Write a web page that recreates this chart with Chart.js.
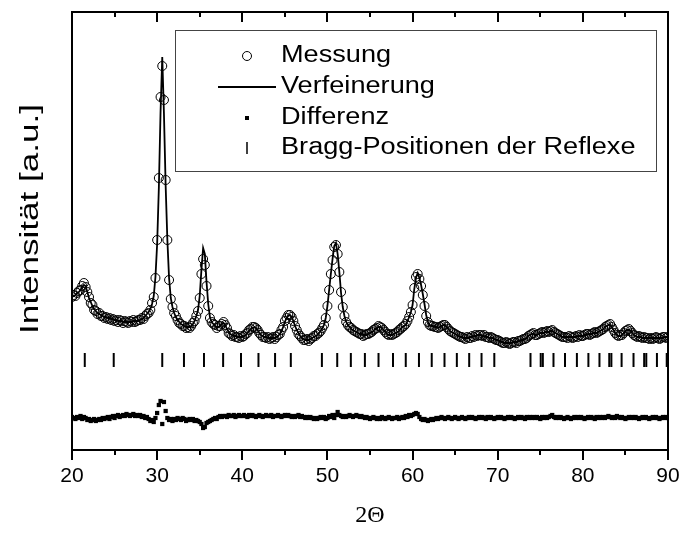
<!DOCTYPE html>
<html>
<head>
<meta charset="utf-8">
<script src="https://cdn.jsdelivr.net/npm/chart.js@4/dist/chart.umd.min.js"></script>
<style>
  html, body { margin: 0; padding: 0; background: #fff; }
  canvas { display: block; }
</style>
</head>
<body>
<canvas id="rietveld" width="681" height="534"></canvas>
<script>
// scan: 20..90 deg 2Theta, step 0.2
const thetaStart = 20;
const thetaStep = 0.2;

const measured = [
  153, 155, 154, 157, 159, 160, 164, 167, 163, 158,
  153, 147, 145, 140, 139, 136, 137, 134, 134, 132,
  133, 131, 132, 130, 131, 129, 130, 128, 130, 129,
  127, 129, 128, 127, 129, 128, 130, 128, 129, 130,
  130, 132, 131, 134, 136, 137, 140, 147, 153, 172,
  210, 272, 353, 384, 350, 270, 210, 170, 151, 143,
  137, 134, 130, 127, 126, 124, 124, 122, 123, 122,
  124, 127, 129, 134, 139, 152, 176, 191, 185, 164,
  144, 132, 128, 126, 125, 122, 124, 124, 126, 128,
  125, 122, 117, 116, 114, 115, 113, 113, 112, 114,
  113, 114, 116, 117, 120, 121, 123, 123, 122, 120,
  117, 115, 113, 113, 112, 113, 111, 112, 113, 111,
  113, 115, 116, 120, 123, 129, 132, 135, 135, 133,
  129, 124, 120, 116, 114, 112, 110, 110, 111, 109,
  111, 112, 114, 114, 116, 117, 119, 122, 125, 132,
  144, 160, 176, 190, 203, 205, 196, 178, 158, 143,
  134, 128, 125, 123, 122, 120, 119, 118, 117, 116,
  116, 114, 115, 116, 116, 117, 118, 120, 121, 122,
  124, 123, 122, 120, 118, 116, 115, 116, 115, 116,
  117, 118, 120, 121, 123, 124, 126, 129, 133, 138,
  145, 162, 173, 176, 171, 164, 155, 144, 134, 128,
  125, 124, 124, 123, 123, 122, 123, 124, 125, 125,
  123, 121, 119, 118, 117, 116, 115, 114, 113, 113,
  112, 111, 113, 112, 112, 114, 113, 115, 114, 115,
  115, 114, 115, 113, 113, 112, 113, 112, 111, 110,
  110, 109, 108, 107, 107, 108, 107, 106, 107, 108,
  108, 107, 109, 109, 110, 111, 111, 112, 114, 115,
  116, 117, 115, 115, 116, 117, 118, 117, 118, 119,
  118, 119, 120, 118, 117, 116, 115, 114, 113, 113,
  113, 112, 114, 113, 112, 113, 114, 113, 115, 114,
  114, 115, 116, 116, 115, 116, 117, 118, 117, 118,
  119, 120, 121, 123, 124, 125, 126, 123, 120, 117,
  115, 114, 115, 115, 117, 119, 120, 121, 119, 117,
  115, 114, 113, 114, 113, 112, 113, 112, 112, 111,
  112, 111, 112, 113, 112, 111, 112, 113, 113, 112,
  113
];

const calculated = [
  153, 154, 155, 157, 158, 160, 163, 165, 164, 158,
  152, 148, 144, 141, 139, 137, 136, 135, 134, 133,
  133, 132, 132, 131, 131, 130, 130, 129, 129, 129,
  128, 128, 128, 128, 128, 128, 129, 129, 129, 129,
  130, 131, 132, 134, 136, 138, 141, 146, 154, 173,
  206, 262, 338, 393, 336, 264, 210, 172, 152, 143,
  137, 133, 130, 128, 126, 125, 124, 123, 123, 123,
  124, 126, 129, 134, 140, 154, 180, 202, 196, 168,
  146, 133, 128, 126, 124, 123, 123, 124, 126, 127,
  125, 121, 118, 116, 115, 114, 114, 113, 113, 113,
  113, 114, 115, 117, 119, 121, 122, 123, 122, 120,
  117, 115, 114, 113, 113, 112, 112, 112, 112, 112,
  113, 114, 116, 119, 123, 128, 132, 134, 135, 133,
  129, 124, 120, 117, 114, 112, 111, 110, 110, 110,
  111, 112, 113, 114, 115, 117, 119, 122, 125, 132,
  144, 160, 176, 191, 204, 207, 196, 178, 157, 143,
  134, 128, 125, 123, 121, 120, 119, 118, 117, 116,
  116, 115, 115, 115, 116, 117, 118, 119, 121, 122,
  123, 123, 122, 120, 118, 116, 115, 115, 115, 116,
  117, 118, 119, 121, 123, 124, 125, 129, 133, 138,
  145, 161, 172, 177, 172, 165, 156, 146, 135, 128,
  125, 124, 124, 123, 123, 122, 123, 124, 125, 125,
  123, 121, 119, 118, 117, 116, 115, 114, 113, 113,
  112, 112, 112, 112, 113, 113, 114, 114, 115, 115,
  115, 114, 114, 113, 113, 112, 112, 112, 111, 110,
  110, 109, 108, 108, 107, 107, 107, 107, 107, 108,
  108, 108, 109, 109, 110, 110, 111, 112, 114, 115,
  116, 116, 115, 115, 116, 117, 117, 117, 118, 118,
  118, 119, 119, 118, 117, 116, 115, 114, 113, 113,
  113, 113, 113, 113, 113, 113, 113, 114, 114, 114,
  114, 115, 115, 116, 116, 116, 117, 117, 117, 118,
  119, 120, 121, 123, 124, 125, 125, 123, 120, 117,
  115, 114, 114, 115, 117, 119, 120, 120, 119, 117,
  115, 114, 113, 113, 113, 112, 112, 112, 112, 112,
  112, 112, 112, 112, 112, 112, 112, 112, 113, 113,
  113
];

// difference curve, plotted with an offset below the pattern
const difference = [
  33, 32, 31, 33, 32, 34, 31, 33, 32, 30,
  31, 29, 30, 31, 29, 30, 31, 30, 32, 31,
  32, 33, 31, 33, 34, 32, 34, 35, 33, 34,
  35, 34, 36, 35, 34, 35, 36, 34, 35, 34,
  35, 33, 34, 32, 33, 31, 29, 30, 28, 32,
  37, 45, 49, 26, 48, 39, 32, 30, 31, 29,
  31, 30, 32, 31, 30, 32, 31, 29, 30, 31,
  30, 31, 29, 30, 29, 28, 26, 22, 23, 27,
  28, 29, 30, 31, 32, 31, 33, 34, 33, 34,
  34, 33, 35, 34, 34, 35, 33, 34, 35, 34,
  34, 35, 34, 33, 35, 34, 35, 34, 33, 34,
  35, 34, 33, 34, 35, 34, 34, 35, 33, 34,
  34, 35, 34, 33, 34, 35, 34, 35, 34, 33,
  34, 33, 34, 35, 33, 34, 33, 32, 33, 32,
  33, 32, 31, 32, 31, 32, 33, 32, 33, 31,
  32, 34, 33, 35, 32, 35, 38, 35, 34, 33,
  34, 33, 34, 35, 34, 33, 34, 35, 34, 33,
  34, 33, 32, 33, 32, 31, 32, 33, 32, 31,
  32, 31, 33, 32, 31, 32, 33, 32, 31, 32,
  32, 33, 31, 32, 33, 32, 34, 33, 35, 34,
  35, 36, 37, 36, 33, 31, 30, 31, 30, 29,
  30, 31, 30, 31, 32, 31, 32, 33, 32, 31,
  32, 33, 32, 31, 32, 33, 32, 31, 32, 33,
  32, 31, 32, 33, 32, 33, 32, 31, 32, 33,
  32, 33, 32, 31, 33, 32, 33, 32, 31, 32,
  33, 32, 33, 32, 31, 32, 33, 32, 33, 32,
  31, 32, 33, 32, 33, 32, 31, 33, 32, 33,
  32, 33, 32, 33, 32, 31, 33, 32, 33, 32,
  33, 34, 35, 33, 32, 33, 32, 33, 32, 31,
  32, 33, 32, 31, 32, 33, 32, 33, 32, 33,
  32, 31, 32, 33, 32, 33, 32, 31, 33, 32,
  33, 32, 33, 32, 33, 34, 33, 32, 33, 32,
  34, 33, 32, 33, 32, 31, 32, 33, 32, 33,
  32, 33, 32, 31, 32, 33, 32, 33, 32, 31,
  32, 33, 32, 33, 32, 31, 32, 33, 32, 33,
  32
];

const braggPositions = [
  21.5, 24.9, 30.6, 33.15, 35.5, 37.75, 39.85, 41.9, 43.85, 45.7,
  49.35, 51.15, 52.75, 54.4, 56.0, 57.7, 59.2, 60.75, 62.25, 63.75,
  65.2, 66.65, 68.1, 69.6, 73.85, 75.05, 75.3, 76.55, 77.9, 79.3,
  80.65, 81.95, 83.1, 83.35, 84.55, 85.95, 87.2, 87.45, 88.7, 89.85
];
const braggLevel = 90;

const xTickLabels = [20, 30, 40, 50, 60, 70, 80, 90];
const xMinorTicks = [25, 35, 45, 55, 65, 75, 85];
const yTitle = "Intensität [a.u.]";

const twoTheta = measured.map((_, i) => +(thetaStart + i * thetaStep).toFixed(1));
const pts = (arr) => arr.map((v, i) => ({ x: twoTheta[i], y: v }));

const FONT = "'Liberation Sans', Arial, sans-serif";

// box frame with ticks on top (inward) and bottom (outward)
const framePlugin = {
  id: "frame",
  afterDatasetsDraw(chart) {
    const { ctx, chartArea: a, scales } = chart;
    const x = scales.x;
    ctx.save();
    ctx.strokeStyle = "#000";
    ctx.lineWidth = 2;
    ctx.strokeRect(a.left, a.top, a.right - a.left, a.bottom - a.top);
    ctx.beginPath();
    xTickLabels.concat(xMinorTicks).forEach((t) => {
      const px = Math.round(x.getPixelForValue(t));
      const len = xTickLabels.includes(t) ? 10 : 5;
      ctx.moveTo(px, a.bottom);
      ctx.lineTo(px, a.bottom + len);
      ctx.moveTo(px, a.top);
      ctx.lineTo(px, a.top + len);
    });
    ctx.stroke();
    ctx.restore();
  },
};

// stretched axis title on the left (the original lettering is elongated)
const yTitlePlugin = {
  id: "yTitle",
  afterDraw(chart) {
    const { ctx } = chart;
    ctx.save();
    ctx.translate(31, 219);
    ctx.rotate(-Math.PI / 2);
    ctx.scale(1.35, 1);
    ctx.font = "26px " + FONT;
    ctx.fillStyle = "#000";
    ctx.textAlign = "center";
    ctx.textBaseline = "middle";
    ctx.fillText(yTitle, 0, 0);
    ctx.restore();
  },
};

// boxed legend inside the plot
const legendBox = {
  id: "legendBox",
  afterDraw(chart) {
    const { ctx } = chart;
    const left = 175, top = 30, right = 656, bottom = 171;
    ctx.save();
    ctx.fillStyle = "#fff";
    ctx.fillRect(left, top, right - left, bottom - top);
    ctx.strokeStyle = "#444";
    ctx.lineWidth = 1;
    ctx.strokeRect(left + 0.5, top + 0.5, right - left, bottom - top);

    const sx = 247, tx = 281;
    const rows = [56, 87, 118, 148];
    ctx.strokeStyle = "#000";
    ctx.fillStyle = "#000";

    // circle
    ctx.lineWidth = 1;
    ctx.beginPath();
    ctx.arc(sx, rows[0], 4.5, 0, Math.PI * 2);
    ctx.stroke();
    // line
    ctx.lineWidth = 1.8;
    ctx.beginPath();
    ctx.moveTo(218, rows[1]);
    ctx.lineTo(276, rows[1]);
    ctx.stroke();
    // square
    ctx.fillRect(sx - 2, rows[2] - 2, 4, 4);
    // bar
    ctx.lineWidth = 1.5;
    ctx.beginPath();
    ctx.moveTo(sx, rows[3] - 6);
    ctx.lineTo(sx, rows[3] + 6);
    ctx.stroke();

    // legend lettering is a bit wider than plain Arial in the original
    ctx.font = "23px " + FONT;
    ctx.textBaseline = "middle";
    ctx.textAlign = "left";
    chart.data.datasets.forEach((ds, i) => {
      ctx.save();
      ctx.translate(tx, rows[i]);
      ctx.scale(1.18, 1);
      ctx.fillText(ds.label, 0, 0);
      ctx.restore();
    });
    ctx.restore();
  },
};

new Chart(document.getElementById("rietveld"), {
  type: "scatter",
  data: {
    datasets: [
      {
        label: "Messung",
        data: pts(measured),
        showLine: false,
        pointStyle: "circle",
        pointRadius: 4.5,
        pointBorderWidth: 1,
        pointBorderColor: "#000",
        pointBackgroundColor: "rgba(0,0,0,0)",
        order: 2,
      },
      {
        label: "Verfeinerung",
        data: pts(calculated),
        showLine: true,
        borderColor: "#000",
        borderWidth: 1.8,
        pointRadius: 0,
        tension: 0,
        order: 1,
      },
      {
        label: "Differenz",
        data: pts(difference),
        showLine: false,
        pointStyle: "rect",
        pointRadius: 3,
        pointBorderWidth: 0,
        pointBackgroundColor: "#000",
        order: 3,
      },
      {
        label: "Bragg-Positionen der Reflexe",
        data: braggPositions.map((p) => ({ x: p, y: braggLevel })),
        showLine: false,
        pointStyle: "line",
        rotation: 90,
        pointRadius: 7,
        pointBorderWidth: 2,
        pointBorderColor: "#000",
        order: 4,
      },
    ],
  },
  options: {
    responsive: false,
    animation: false,
    events: [],
    layout: { padding: { top: 12, right: 13, left: 0, bottom: 0 } },
    plugins: { legend: { display: false }, tooltip: { enabled: false } },
    scales: {
      x: {
        type: "linear",
        min: 20,
        max: 90,
        afterBuildTicks: (s) => { s.ticks = xTickLabels.map((v) => ({ value: v })); },
        afterFit: (s) => { s.height = 84; s.paddingLeft = 0; s.paddingRight = 0; },
        grid: { display: false, drawTicks: false },
        border: { display: false },
        ticks: { color: "#000", font: { family: FONT, size: 21 }, padding: 14, maxRotation: 0 },
        title: {
          display: true,
          text: "2Θ",
          color: "#000",
          font: { family: "'Liberation Serif', 'Times New Roman', serif", size: 24 },
          padding: { top: 0, bottom: 4 },
        },
      },
      y: {
        min: 0,
        max: 438,
        afterFit: (s) => { s.width = 72; s.paddingTop = 0; s.paddingBottom = 0; },
        grid: { display: false, drawTicks: false },
        border: { display: false },
        ticks: { display: false },
        title: { display: false, text: yTitle },
      },
    },
  },
  plugins: [framePlugin, yTitlePlugin, legendBox],
});
</script>
</body>
</html>
